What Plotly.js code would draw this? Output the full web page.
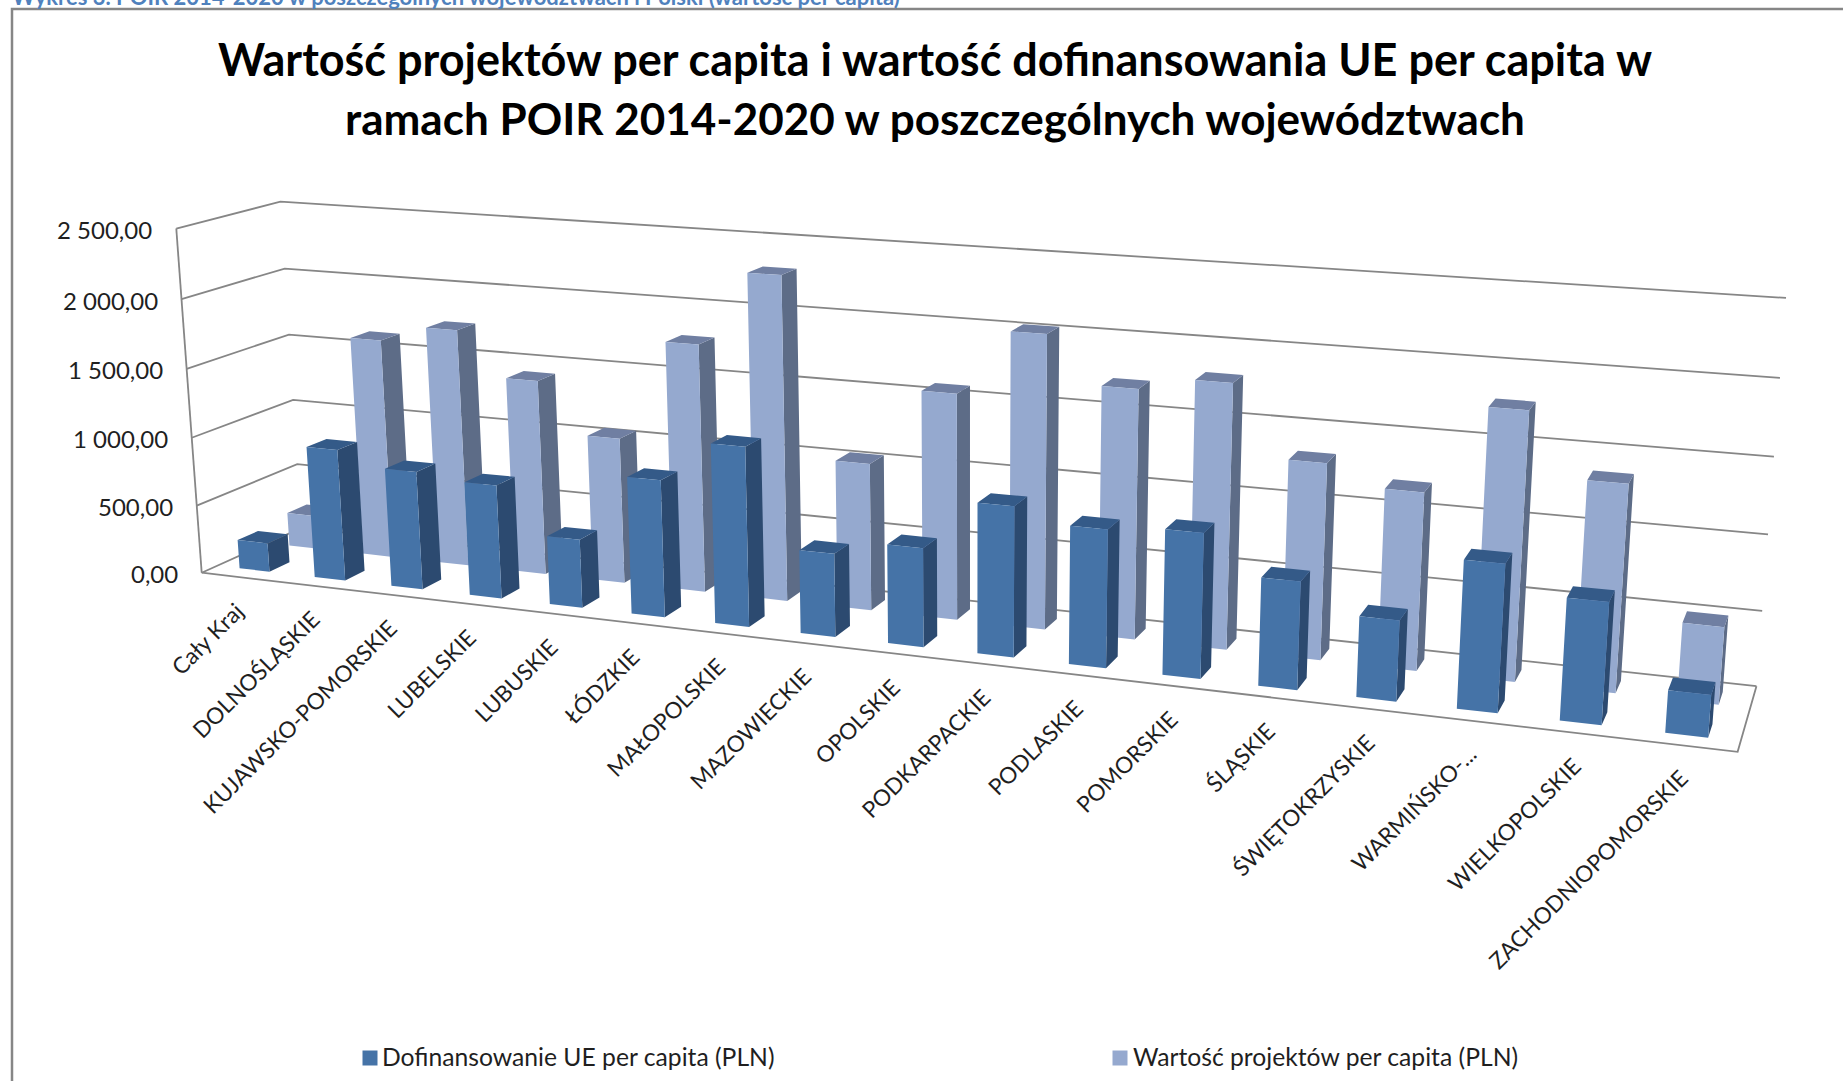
<!DOCTYPE html>
<html><head><meta charset="utf-8">
<script src="https://cdn.plot.ly/plotly-3.0.1.min.js"></script>
<style>html,body{margin:0;padding:0;background:#fff;overflow:hidden}#c{width:1843px;height:1081px}</style>
</head><body><div id="c"></div>
<script>
const categories = ["Cały Kraj","DOLNOŚLĄSKIE","KUJAWSKO-POMORSKIE","LUBELSKIE","LUBUSKIE","ŁÓDZKIE","MAŁOPOLSKIE","MAZOWIECKIE","OPOLSKIE","PODKARPACKIE","PODLASKIE","POMORSKIE","ŚLĄSKIE","ŚWIĘTOKRZYSKIE","WARMIŃSKO-...","WIELKOPOLSKIE","ZACHODNIOPOMORSKIE"];
const dofinansowanie = [212,958,855,815,488,967,1255,578,680,1024,930,968,715,530,960,785,270];
const wartosc = [250,1620,1740,1420,1055,1775,2300,1040,1580,2030,1712,1800,1325,1190,1775,1362,505];
const axisTicks = [0,500,1000,1500,2000,2500];
const axisTickLabels = ["0,00","500,00","1 000,00","1 500,00","2 000,00","2 500,00"];
const axisMax = 2500;
const seriesNames = ["Dofinansowanie UE per capita (PLN)","Wartość projektów per capita (PLN)"];

// perspective camera fitted to the plot-box corners (u along categories, v depth, w height)
const camera = [
  [0,0,0,202,572.6],[1,0,0,1737.6,752],[0,1,0,301,528],[1,1,0,1756.5,686],
  [0,0,1,176,228.5],[0,1,1,280.7,201.7],[1,1,1,1786,298]
];
function fit(pts){
  const A=[],b=[];
  pts.forEach(([u,v,w,x,y])=>{x/=1000;y/=1000;
    A.push([u,v,w,1,0,0,0,0,-x*u,-x*v,-x*w]);b.push(x);
    A.push([0,0,0,0,u,v,w,1,-y*u,-y*v,-y*w]);b.push(y);});
  const n=11,M=[];
  for(let i=0;i<n;i++){M.push([]);for(let j=0;j<=n;j++){let s=0;
    for(let k=0;k<A.length;k++)s+=A[k][i]*(j<n?A[k][j]:b[k]);M[i].push(s);}}
  for(let i=0;i<n;i++){let p=i;for(let r=i+1;r<n;r++)if(Math.abs(M[r][i])>Math.abs(M[p][i]))p=r;
    [M[i],M[p]]=[M[p],M[i]];
    for(let r=0;r<n;r++){if(r===i)continue;const f=M[r][i]/M[i][i];
      for(let c=i;c<=n;c++)M[r][c]-=f*M[i][c];}}
  return M.map((r,i)=>r[n]/r[i]);
}
const P=fit(camera);
function proj(u,v,w){const d=P[8]*u+P[9]*v+P[10]*w+1;
  return [1000*(P[0]*u+P[1]*v+P[2]*w+P[3])/d,1000*(P[4]*u+P[5]*v+P[6]*w+P[7])/d];}

const N=categories.length;
const gap=0.3, rowDepth=0.2;
function path(points){const xs=[],ys=[];points.forEach(p=>{const q=proj(...p);xs.push(q[0]);ys.push(q[1]);});return [xs,ys];}
function faces(values,rowStart){
  const side=[[],[]],top=[[],[]],front=[[],[]];
  const add=(t,pts)=>{const [x,y]=path(pts);t[0].push(...x,x[0],null);t[1].push(...y,y[0],null);};
  values.forEach((val,i)=>{
    const u0=(i+gap)/N,u1=(i+1-gap)/N,v0=rowStart,v1=rowStart+rowDepth,w=val/axisMax;
    add(side,[[u1,v0,0],[u1,v1,0],[u1,v1,w],[u1,v0,w]]);
    add(top,[[u0,v0,w],[u1,v0,w],[u1,v1,w],[u0,v1,w]]);
    add(front,[[u0,v0,0],[u1,v0,0],[u1,v0,w],[u0,v0,w]]);
  });
  return {side,top,front};
}
const poly=(t,color,name)=>({type:'scatter',mode:'lines',x:t[0],y:t[1],fill:'toself',fillcolor:color,
  line:{width:0,color:color},hoverinfo:'skip',showlegend:false,name:name});

// wall gridlines + floor outline
const gx=[],gy=[];
const seg=pts=>{const [x,y]=path(pts);gx.push(...x,null);gy.push(...y,null);};
axisTicks.forEach(t=>{const w=t/axisMax;seg([[0,0,w],[0,1,w],[1,1,w]]);});
seg([[0,0,0],[0,0,1]]);
seg([[0,0,0],[1,0,0],[1,1,0]]);

const traces=[{type:'scatter',mode:'lines',x:gx,y:gy,line:{color:'#868686',width:1.8},hoverinfo:'skip',showlegend:false,name:'siatka'}];
const light=faces(wartosc,0.65), dark=faces(dofinansowanie,0.15);
traces.push(poly(light.side,'#5D6C87',seriesNames[1]),poly(light.top,'#707FA2',seriesNames[1]),poly(light.front,'#95A9CF',seriesNames[1]));
traces.push(poly(dark.side,'#2C4A70',seriesNames[0]),poly(dark.top,'#345A88',seriesNames[0]),poly(dark.front,'#4573A7',seriesNames[0]));

// legend
const legendX=[370,1120], legendTextX=[382,1133], legendColors=['#4573A7','#95A9CF'];
seriesNames.forEach((s,i)=>{
  traces.push({type:'scatter',mode:'markers',x:[legendX[i]],y:[1058],marker:{symbol:'square',size:15,color:legendColors[i]},
    hoverinfo:'skip',showlegend:false,name:s});
  traces.push({type:'scatter',mode:'text',x:[legendTextX[i]],y:[1060],text:[s],textposition:'middle right',
    textfont:{family:'Lato',size:24.7,color:'#1f1f1f'},hoverinfo:'skip',showlegend:false,name:s});
});

const annotations=[];
axisTicks.forEach((t,i)=>{const q=proj(0,0,t/axisMax);
  annotations.push({x:q[0]-22,y:q[1]+1,xref:'x',yref:'y',text:axisTickLabels[i],showarrow:false,xanchor:'right',yanchor:'middle',
    font:{family:'Lato',size:24,color:'#1f1f1f'}});});
categories.forEach((c,i)=>{const q=proj((i+0.5)/N,0,0);
  annotations.push({x:q[0]+12.5,y:q[1]+17,xref:'x',yref:'y',text:c,showarrow:false,textangle:-45,xanchor:'right',yanchor:'top',
    font:{family:'Lato',size:22.6,color:'#1f1f1f'}});});
annotations.push({x:10,y:0,xref:'x',yref:'y',yshift:4,text:'Wykres 3. POIR 2014-2020 w poszczególnych województwach i Polski (wartość per capita)',
  showarrow:false,xanchor:'left',yanchor:'middle',font:{family:'Lato',size:22,color:'#4F81BD',weight:700}});

Plotly.newPlot('c',traces,{
  width:1843,height:1081,margin:{l:0,r:0,t:0,b:0},paper_bgcolor:'#fff',plot_bgcolor:'#fff',showlegend:false,
  title:{text:'<b>Wartość projektów per capita i wartość dofinansowania UE per capita w<br><span style="font-size:44px">ramach POIR 2014-2020 w poszczególnych województwach</span></b>',
    font:{family:'Lato',size:45,color:'#000'},x:935/1843,xanchor:'center',y:1-76/1081,yanchor:'top'},
  xaxis:{range:[0,1843],visible:false,fixedrange:true},
  yaxis:{range:[1081,0],visible:false,fixedrange:true},
  annotations,
  shapes:[{type:'rect',xref:'paper',yref:'paper',x0:12/1843,x1:1.01,y0:-0.01,y1:1-9/1081,line:{color:'#868686',width:2.5},fillcolor:'rgba(0,0,0,0)',layer:'below'}]
},{staticPlot:true,displayModeBar:false});
</script></body></html>
